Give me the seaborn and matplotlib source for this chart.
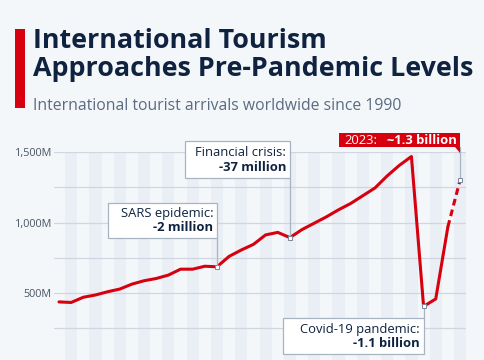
import numpy as np
import matplotlib.pyplot as plt
import matplotlib.patches as mpatches
import seaborn as sns

# --- data: international tourist arrivals (millions) ---
years = list(range(1990, 2024))
arrivals = [437, 433, 470, 486, 509, 528, 563, 587, 603, 627,
            669, 669, 690, 686, 760, 805, 845, 912, 930, 893,
            950, 995, 1040, 1090, 1135, 1190, 1245, 1330, 1405, 1468,
            405, 458, 970, 1300]
y_ticks = [500, 1000, 1500]
y_tick_labels = ['500M', '1,000M', '1,500M']

# annotations: (year, label, change, box x-left, box y-bottom, box y-top)
notes = [
    (2003, 'SARS epidemic:', '-2 million', 1994.0, 890, 1138),
    (2009, 'Financial crisis:', '-37 million', 2000.4, 1316, 1578),
    (2020, 'Covid-19 pandemic:', '-1.1 billion', 2008.4, 67, 323),
]

BG = '#f4f7fa'
STRIPE = '#eaeff5'
GRID = '#cfd6df'
RED = '#d7000f'
NAVY = '#0f2340'
BORDER = '#a9b4c2'

sns.set_theme(style='white')
plt.rcParams['font.family'] = ['Open Sans', 'DejaVu Sans']

fig = plt.figure(figsize=(4.85, 3.6), dpi=100, facecolor=BG)
ax = fig.add_axes([54 / 485, 0, 412 / 485, 208 / 360])
ax.set_facecolor(BG)
ax.set_xlim(1989.59, 2023.49)
ax.set_ylim(25, 1500)

# alternating year stripes
for yr in years:
    if yr % 2 == 1:
        ax.axvspan(yr - 0.5, yr + 0.5, color=STRIPE, lw=0, zorder=0)

for v in range(250, 1501, 250):
    ax.axhline(v, color=GRID, lw=0.9, zorder=1)

# main line: solid through 2022, dashed for 2023 estimate
sns.lineplot(x=years[:-1], y=arrivals[:-1], ax=ax, color=RED, lw=2.2, zorder=3)
ax.plot(years[-2:], arrivals[-2:], color=RED, lw=2.2, ls=(0, (2.2, 1.4)), zorder=3)

for s in ax.spines.values():
    s.set_visible(False)
ax.set_xticks([])
ax.set_yticks(y_ticks)
ax.set_yticklabels(y_tick_labels, fontsize=7.8, color='#4a5568')
ax.tick_params(axis='y', length=0, pad=1.5)

# boxed annotations
for yr, lab, chg, x0, y0, y1 in notes:
    val = arrivals[years.index(yr)]
    ax.plot([yr, yr], [val, y0 if val < y0 else y1], color=BORDER, lw=0.9, zorder=4)
    ax.add_patch(mpatches.Rectangle((x0, y0), yr - x0, y1 - y0, facecolor='white',
                                    edgecolor=BORDER, lw=0.9, zorder=5, clip_on=False))
    ax.text(yr - 0.3, y0 + (y1 - y0) * 0.69, lab, ha='right', va='center',
            fontsize=9.4, color=NAVY, zorder=6)
    ax.text(yr - 0.3, y0 + (y1 - y0) * 0.29, chg, ha='right', va='center',
            fontsize=9.4, color=NAVY, fontweight='bold', zorder=6)
    ax.plot(yr, val, marker='s', ms=3, mfc='white', mec='#7d8899', mew=0.7, zorder=7)

# 2023 flag label above the plot
last_yr, last_val = years[-1], arrivals[-1]
ax.plot([last_yr, last_yr], [last_val, 1535], color=BORDER, lw=0.9, zorder=4, clip_on=False)
ax.add_patch(mpatches.Rectangle((2013.05, 1535), last_yr - 2013.05, 100, facecolor=RED,
                                edgecolor='none', zorder=5, clip_on=False))
ax.add_patch(mpatches.Polygon([(last_yr - 0.45, 1535), (last_yr, 1535), (last_yr, 1495)],
                              closed=True, facecolor=RED, edgecolor='none', zorder=5, clip_on=False))
ax.text(2013.5, 1585, '2023:', ha='left', va='center', fontsize=9.4, color='white', zorder=6)
ax.text(last_yr - 0.3, 1585, '~1.3 billion', ha='right', va='center', fontsize=9.4,
        color='white', fontweight='bold', zorder=6)
ax.plot(last_yr, last_val, marker='s', ms=3, mfc='white', mec='#7d8899', mew=0.7, zorder=7,
        clip_on=False)

# title block
fig.patches.append(mpatches.Rectangle((15 / 485, 1 - 108 / 360), 10 / 485, 79 / 360,
                                      transform=fig.transFigure, facecolor=RED, edgecolor='none'))
fig.text(33 / 485, 1 - 28 / 360, 'International Tourism\nApproaches Pre-Pandemic Levels',
         ha='left', va='top', fontsize=19.4, fontweight='bold', color=NAVY, linespacing=1.1)
fig.text(33 / 485, 1 - 110 / 360, 'International tourist arrivals worldwide since 1990',
         ha='left', va='baseline', fontsize=11.3, color='#5b6b82')

fig.savefig('out.png', dpi=100, facecolor=BG)
